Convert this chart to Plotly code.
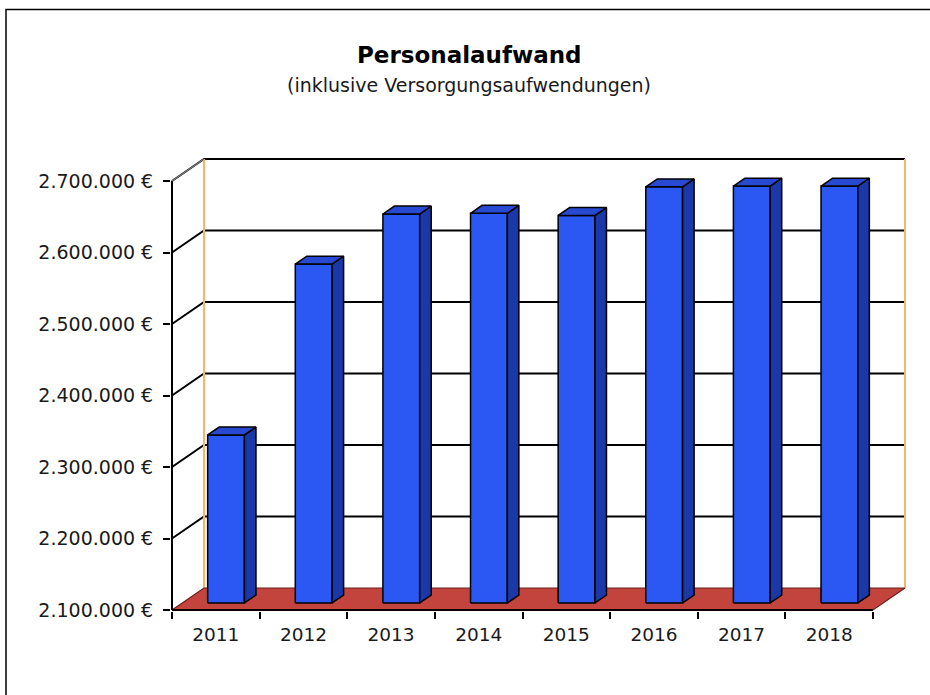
import plotly.graph_objects as go

# --- data -----------------------------------------------------------------
years = ["2011", "2012", "2013", "2014", "2015", "2016", "2017", "2018"]
personalaufwand = [2335000, 2574000, 2644000, 2645000, 2642000, 2682000, 2683000, 2683000]
y_tick_values = [2100000, 2200000, 2300000, 2400000, 2500000, 2600000, 2700000]
y_tick_text = ["2.100.000 €", "2.200.000 €", "2.300.000 €", "2.400.000 €",
               "2.500.000 €", "2.600.000 €", "2.700.000 €"]

# --- geometry of the pseudo-3D frame ----------------------------------------
W, H = 930, 695
PL, PR, PT, PB = 171, 912, 150, 611          # plot area in pixels
X0_PX = 172                                   # front axis (x = -0.5)
PX_PER_CAT = 87.625
Y0_PX = 610                                   # floor level (2.1 Mio) on the front plane
PX_PER_EUR = 715 / 1e6

BASE = y_tick_values[0]
TOP = y_tick_values[-1]
N = len(years)
X_LEFT, X_RIGHT = -0.5, N - 0.5

x_range = [X_LEFT - (X0_PX - PL) / PX_PER_CAT, X_LEFT + (PR - X0_PX) / PX_PER_CAT]
y_range = [BASE - (PB - Y0_PX) / PX_PER_EUR, BASE + (Y0_PX - PT) / PX_PER_EUR]

DX = 32 / PX_PER_CAT          # depth offset along x (category units)
DY = 22 / PX_PER_EUR          # depth offset along y (euro units)
BAR_W = 0.42                  # bar width in category units
D0, D1 = 0.32, 0.68           # bar front / back as fraction of the depth

FRONT_COL = "#2B57F2"
SIDE_COL = "#1B38A8"
TOP_COL = "#2849D2"
FLOOR_COL = "#C2443C"
WALL_EDGE = "#F2B865"

fig = go.Figure()


def poly(xs, ys, fill, line_col="black", lw=1.5):
    fig.add_trace(go.Scatter(
        x=list(xs) + [xs[0]], y=list(ys) + [ys[0]],
        mode="lines", fill="toself", fillcolor=fill,
        line=dict(color=line_col, width=lw),
        hoverinfo="skip", showlegend=False))


def polyline(xs, ys, color, lw):
    fig.add_trace(go.Scatter(
        x=xs, y=ys, mode="lines", line=dict(color=color, width=lw),
        hoverinfo="skip", showlegend=False, connectgaps=False))


# gridlines: left side wall diagonal, then along the back wall
gx, gy = [], []
for v in y_tick_values[1:]:
    gx += [X_LEFT, X_LEFT + DX, X_RIGHT + DX, None]
    gy += [v, v + DY, v + DY, None]
polyline(gx, gy, "black", 2)

# vertical edges of the back wall
polyline([X_LEFT + DX, X_LEFT + DX, None, X_RIGHT + DX, X_RIGHT + DX],
         [BASE + DY, TOP + DY, None, BASE + DY, TOP + DY], WALL_EDGE, 2)

# floor
poly([X_LEFT, X_RIGHT, X_RIGHT + DX, X_LEFT + DX],
     [BASE, BASE, BASE + DY, BASE + DY], FLOOR_COL, line_col="#6A1F1B", lw=1.2)

# bars
for i, v in enumerate(personalaufwand):
    xl = i - BAR_W / 2
    xr = i + BAR_W / 2
    # front face
    poly([xl + D0 * DX, xr + D0 * DX, xr + D0 * DX, xl + D0 * DX],
         [BASE + D0 * DY, BASE + D0 * DY, v + D0 * DY, v + D0 * DY], FRONT_COL)
    # right side face
    poly([xr + D0 * DX, xr + D1 * DX, xr + D1 * DX, xr + D0 * DX],
         [BASE + D0 * DY, BASE + D1 * DY, v + D1 * DY, v + D0 * DY], SIDE_COL)
    # top face
    poly([xl + D0 * DX, xr + D0 * DX, xr + D1 * DX, xl + D1 * DX],
         [v + D0 * DY, v + D0 * DY, v + D1 * DY, v + D1 * DY], TOP_COL)

# front axes lines
polyline([X_LEFT, X_LEFT], [BASE, TOP], "black", 2)
polyline([X_LEFT, X_RIGHT], [BASE, BASE], "black", 2)
polyline([X_LEFT, X_LEFT + DX], [TOP, TOP + DY], "#7a7a7a", 1.5)


def px_to_paper_x(px):
    return (px - PL) / (PR - PL)


def px_to_paper_y(py):
    return (PB - py) / (PB - PT)


FONT = "DejaVu Sans"

fig.update_layout(
    width=W, height=H,
    margin=dict(l=PL, r=W - PR, t=PT, b=H - PB),
    paper_bgcolor="white", plot_bgcolor="white",
    showlegend=False,
    xaxis=dict(
        range=x_range, showgrid=False, zeroline=False, showline=False,
        tickmode="array", tickvals=list(range(N)), ticktext=years,
        ticks="", tickfont=dict(family=FONT, size=18.5, color="#1a1a1a"),
        ticklabelstandoff=10,
        minor=dict(tickmode="array",
                   tickvals=[k - 0.5 for k in range(N + 1)],
                   ticks="outside", ticklen=7, tickwidth=1.5, tickcolor="black"),
        fixedrange=True,
    ),
    yaxis=dict(
        range=y_range, showgrid=False, zeroline=False, showline=False,
        tickmode="array", tickvals=y_tick_values, ticktext=y_tick_text,
        ticks="outside", ticklen=7, tickwidth=1.5, tickcolor="black",
        tickfont=dict(family=FONT, size=19, color="#1a1a1a"),
        ticklabelstandoff=6,
        fixedrange=True,
    ),
    annotations=[
        dict(text="<b>Personalaufwand</b>", xref="paper", yref="paper",
             x=px_to_paper_x(469), y=px_to_paper_y(55), xanchor="center", yanchor="middle",
             showarrow=False, font=dict(family=FONT, size=23, color="black")),
        dict(text="(inklusive Versorgungsaufwendungen)", xref="paper", yref="paper",
             x=px_to_paper_x(469), y=px_to_paper_y(85), xanchor="center", yanchor="middle",
             showarrow=False, font=dict(family=FONT, size=19, color="#1a1a1a")),
    ],
    shapes=[
        # outer chart frame
        dict(type="rect", xref="paper", yref="paper", layer="above",
             x0=px_to_paper_x(6), x1=px_to_paper_x(960),
             y0=px_to_paper_y(720), y1=px_to_paper_y(9.5),
             line=dict(color="black", width=1.5), fillcolor="rgba(0,0,0,0)"),
    ],
)

fig.write_html("out.html")
